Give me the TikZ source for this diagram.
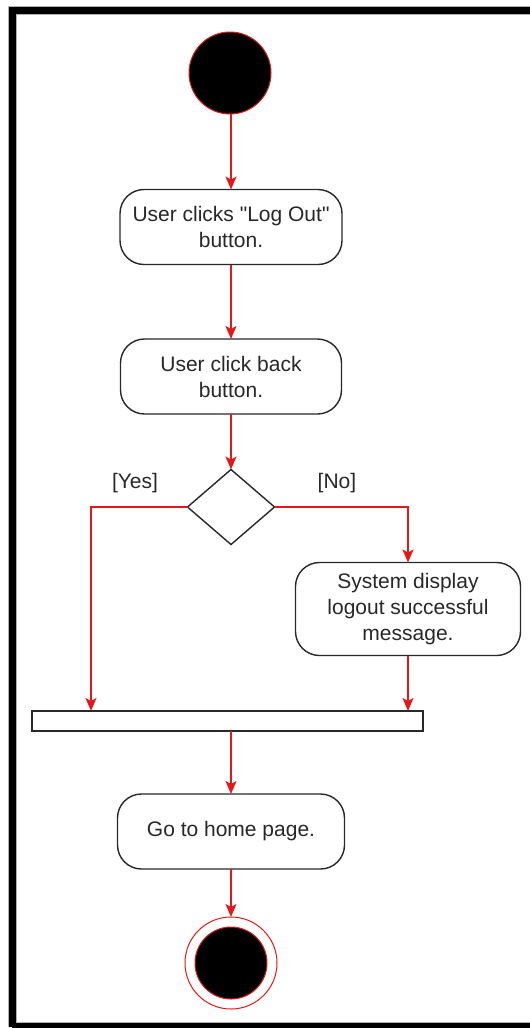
\documentclass[tikz,border=0pt]{standalone}
\usepackage{fontspec}
% plain family: no TeX ligature mapping, so " stays a straight quote
\newfontfamily\diagramfont{Liberation Sans}
\usetikzlibrary{arrows.meta,shapes.geometric}
\definecolor{flow}{RGB}{228,24,24}
\definecolor{ink}{RGB}{40,40,40}
\begin{document}
\begin{tikzpicture}[x=1pt,y=-1pt,
  every node/.style={inner sep=0pt, outer sep=0pt},
  labeltext/.style={font=\diagramfont\fontsize{21}{26}\selectfont, text=ink},
  action/.style={labeltext, draw=ink, line width=1.4pt, fill=white,
    rounded corners=24pt, minimum height=75pt, align=center},
  decision/.style={diamond, draw=ink, line width=1.4pt, fill=white,
    minimum width=87pt, minimum height=75pt},
  syncbar/.style={rectangle, draw=ink, line width=1.4pt, fill=white,
    minimum width=391pt, minimum height=20pt},
  startdot/.style={circle, fill=black, draw=flow, line width=1pt, minimum size=82pt},
  endring/.style={circle, fill=white, draw=flow, line width=1pt, minimum size=92pt},
  enddot/.style={circle, fill=black, draw=flow, line width=1pt, minimum size=72pt},
  flowline/.style={draw=flow, line width=1.4pt},
  flowarrow/.style={flowline, -{Stealth[length=13pt,width=11pt,inset=3pt]}}]

\useasboundingbox (0,0) rectangle (530,1028);
\clip (0,0) rectangle (530,1028);

% page frame
\draw[gray!60, line width=9.5pt] (12.4,1027) -- (12.4,10.5) -- (545,10.5);
\draw[gray!60, line width=9.5pt] (12.4,1027) -- (545,1027);
\draw[black, line width=7.6pt] (12.4,1027) -- (12.4,10.5) -- (545,10.5);
\draw[black, line width=7.6pt] (12.4,1027) -- (545,1027);

% nodes
\node[startdot] (start) at (230,73) {};
\node[action, minimum width=222pt] (logout) at (231,227) {User clicks "Log Out"\\button.};
\node[action, minimum width=221pt] (back) at (231,376.5) {User click back\\button.};
\node[decision] (choice) at (231,507) {};
\node[action, minimum width=225pt, minimum height=93pt] (msg) at (408,609)
  {System display\\logout successful\\message.};
\node[syncbar] (join) at (227.5,721) {};
\node[action, minimum width=227pt] (home) at (231,831.5) {Go to home page.};
\node[endring] (stop) at (231,963) {};
\node[enddot] (stopdot) at (stop.center) {};

% guards
\node[labeltext] (yeslbl) at (135,483) {[Yes]};
\node[labeltext] (nolbl) at (337,483) {[No]};

\coordinate (yesfoot) at (91,711);

% connectors
\draw[flowarrow] (start.south -| logout.north) -- (logout.north);
\draw[flowarrow] (logout) -- (back);
\draw[flowarrow] (back) -- (choice);
\draw[flowarrow] (choice.west) -| (yesfoot);
\draw[flowarrow] (choice.east) -| (msg.north);
\draw[flowarrow] (msg.south) -- (msg.south |- join.north);
\draw[flowarrow] (join.south -| home.north) -- (home.north);
\draw[flowarrow] (home) -- (stop);
\end{tikzpicture}
\end{document}
